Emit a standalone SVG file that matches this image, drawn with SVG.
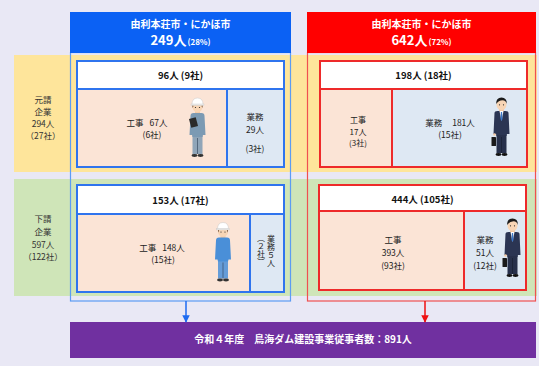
<svg xmlns="http://www.w3.org/2000/svg" width="539" height="366" viewBox="0 0 539 366">
  <style>
    text { font-family: "Noto Sans CJK JP", "Noto Sans", sans-serif; text-anchor: middle; }
    .hd { fill: #ffffff; font-weight: bold; }
    .t { font-size: 8.5px; fill: #222222; }
    .ts { font-size: 8px; fill: #222222; }
    .tb { font-size: 9.5px; fill: #111111; font-weight: bold; }
    .lbl { font-size: 8.5px; fill: #333333; }
    .vt { font-size: 8px; fill: #222222; writing-mode: vertical-rl; text-anchor: start; }
    .bIn { stroke: #2F74EE; stroke-width: 2; }
    .rIn { stroke: #EE2A2A; stroke-width: 2; }
    .work { fill: #FBE4D6; }
    .office { fill: #DEE8F3; }
    .title { fill: #ffffff; }
  </style>
  <defs>
    <marker id="arrowBlue" viewBox="0 0 10 10" refX="9" refY="5" markerWidth="5.5" markerHeight="5" orient="auto">
      <path d="M0,0 L10,5 L0,10 Z" fill="#1E6BF0"/>
    </marker>
    <marker id="arrowRed" viewBox="0 0 10 10" refX="9" refY="5" markerWidth="5.5" markerHeight="5" orient="auto">
      <path d="M0,0 L10,5 L0,10 Z" fill="#EE1111"/>
    </marker>
    <!-- office worker in a dark suit with a briefcase -->
    <symbol id="suitMan" viewBox="0 0 20 62">
      <rect x="7.5" y="12" width="5" height="4" fill="#F3C9A5"/>
      <ellipse cx="10" cy="8.5" rx="5" ry="5.8" fill="#F8D5B5"/>
      <path d="M4.6,8 Q4.5,1.5 10,1.5 Q15.5,1.5 15.4,8 Q14.5,4.5 11,4.2 Q7,4.5 4.6,8 Z" fill="#1B1B1B"/>
      <circle cx="8" cy="8.8" r="0.6" fill="#222"/>
      <circle cx="12" cy="8.8" r="0.6" fill="#222"/>
      <path d="M3,17 Q3,15 6,15 L14,15 Q17,15 17,17 L18,38 L15.5,38 L15,40 L5,40 L4.5,38 L2,38 Z" fill="#2B3553"/>
      <path d="M8,15 L12,15 L10,25 Z" fill="#ffffff"/>
      <path d="M9.4,16 L10.6,16 L11,23 L10,25 L9,23 Z" fill="#3C78C8"/>
      <rect x="5" y="39" width="10" height="18" fill="#27304B"/>
      <line x1="10" y1="41" x2="10" y2="57" stroke="#161C2E" stroke-width="0.6"/>
      <ellipse cx="7" cy="58.5" rx="3" ry="1.4" fill="#111"/>
      <ellipse cx="13" cy="58.5" rx="3" ry="1.4" fill="#111"/>
      <rect x="0" y="41" width="4.5" height="9" rx="0.6" fill="#1A1A1A"/>
      <circle cx="3" cy="38.5" r="1.3" fill="#F3C9A5"/>
    </symbol>
    <!-- site worker with a white helmet -->
    <symbol id="siteMan" viewBox="0 0 20 62">
      <rect x="7.5" y="13" width="5" height="4" fill="#F3C9A5"/>
      <ellipse cx="10" cy="10" rx="5" ry="5.3" fill="#F8D5B5"/>
      <path d="M4.5,7.5 Q4.5,1 10,1 Q15.5,1 15.5,7.5 Z" fill="#ffffff" stroke="#C8C8C8" stroke-width="0.5"/>
      <rect x="3.5" y="7" width="13" height="1.4" fill="#EDEDED" stroke="#C8C8C8" stroke-width="0.4"/>
      <path d="M5,8.4 L5,11 L6,9 Z M15,8.4 L15,11 L14,9 Z" fill="#5A3A22"/>
      <circle cx="8" cy="10.5" r="0.6" fill="#222"/>
      <circle cx="12" cy="10.5" r="0.6" fill="#222"/>
      <path d="M3,19 Q3,16 6,16 L14,16 Q17,16 17,19 L18,38 L15.5,38 L15,40 L5,40 L4.5,38 L2,38 Z" fill="currentColor"/>
      <rect x="5" y="39" width="10" height="18" fill="currentColor" opacity="0.85"/>
      <line x1="10" y1="41" x2="10" y2="57" stroke="#2E3E55" stroke-width="0.6"/>
      <ellipse cx="7" cy="58.5" rx="3" ry="1.4" fill="#333"/>
      <ellipse cx="13" cy="58.5" rx="3" ry="1.4" fill="#333"/>
    </symbol>
  </defs>

  <!-- page -->
  <rect width="539" height="366" fill="#E9E8F5"/>

  <!-- bands: prime contractors / subcontractors -->
  <g id="band-prime">
    <rect x="14" y="55" width="523" height="117" fill="#FEE59B"/>
    <text class="lbl" x="43" y="103">元請</text>
    <text class="lbl" x="43" y="115">企業</text>
    <text class="lbl" x="43" y="127">294人</text>
    <text class="lbl" x="43" y="139">（27社）</text>
  </g>
  <g id="band-sub">
    <rect x="14" y="179" width="523" height="117" fill="#CFE5B8"/>
    <text class="lbl" x="43" y="222">下請</text>
    <text class="lbl" x="43" y="235">企業</text>
    <text class="lbl" x="43" y="248">597人</text>
    <text class="lbl" x="43" y="260">（122社）</text>
  </g>

  <!-- local area column -->
  <g id="col-local">
    <rect x="70.5" y="52.5" width="220" height="248.5" fill="none" stroke="#5C9CF3" stroke-width="1.2"/>
    <rect x="70" y="12" width="221" height="41" fill="#0B61F4"/>
    <text class="hd" x="180.5" y="28" font-size="10">由利本荘市・にかほ市</text>
    <text class="hd" x="180.5" y="44.5" font-size="13">249人<tspan font-size="8" dx="1">(28%)</tspan></text>
  </g>

  <!-- other area column -->
  <g id="col-other">
    <rect x="307.5" y="52.5" width="228" height="248.5" fill="none" stroke="#F05050" stroke-width="1.2"/>
    <rect x="307" y="12" width="229" height="41" fill="#FF0000"/>
    <text class="hd" x="421.5" y="28" font-size="10">由利本荘市・にかほ市</text>
    <text class="hd" x="421.5" y="44.5" font-size="13">642人<tspan font-size="8" dx="1">(72%)</tspan></text>
  </g>

  <!-- local, prime -->
  <g id="local-prime">
    <rect class="title bIn" x="77" y="61" width="207" height="28"/>
    <rect class="work bIn" x="77" y="89" width="150" height="78"/>
    <rect class="office bIn" x="227" y="89" width="57" height="78"/>
    <text class="tb" x="180.5" y="79">96人 (9社)</text>
    <text class="t" x="147" y="126">工事<tspan dx="6">67人</tspan></text>
    <text class="t" x="152" y="138">(6社)</text>
    <text class="t" x="255" y="120">業務</text>
    <text class="t" x="255" y="133">29人</text>
    <text class="t" x="255" y="152">(3社)</text>
    <use href="#siteMan" x="187" y="97" width="21" height="62" color="#7C9AB3"/>
    <rect x="190" y="118" width="7" height="9" fill="#2A2A2A" transform="rotate(-15 193.5 122.5)"/>
  </g>

  <!-- local, subcontractors -->
  <g id="local-sub">
    <rect class="title bIn" x="77" y="185" width="207" height="29"/>
    <rect class="work bIn" x="77" y="214" width="173" height="78"/>
    <rect class="office bIn" x="250" y="214" width="34" height="78"/>
    <text class="tb" x="180.5" y="204">153人 (17社)</text>
    <text class="t" x="162" y="251">工事<tspan dx="6">148人</tspan></text>
    <text class="t" x="163" y="263">(15社)</text>
    <text class="vt" x="271" y="235">業務５人</text>
    <text class="vt" x="261" y="234">（２社）</text>
    <use href="#siteMan" x="213" y="221" width="20" height="63" color="#4A8FD8"/>
  </g>

  <!-- other, prime -->
  <g id="other-prime">
    <rect class="title rIn" x="320" y="61" width="207" height="28"/>
    <rect class="work rIn" x="320" y="89" width="72" height="78"/>
    <rect class="office rIn" x="392" y="89" width="135" height="78"/>
    <text class="tb" x="423.5" y="79">198人 (18社)</text>
    <text class="ts" x="358" y="123">工事</text>
    <text class="ts" x="358" y="134.5">17人</text>
    <text class="ts" x="358" y="146">(3社)</text>
    <text class="t" x="450" y="126">業務<tspan dx="10">181人</tspan></text>
    <text class="t" x="450" y="138">(15社)</text>
    <use href="#suitMan" x="491" y="96" width="21" height="62"/>
  </g>

  <!-- other, subcontractors -->
  <g id="other-sub">
    <rect class="title rIn" x="319" y="185" width="207" height="26"/>
    <rect class="work rIn" x="319" y="211" width="145" height="79"/>
    <rect class="office rIn" x="464" y="211" width="62" height="79"/>
    <text class="tb" x="422.5" y="203">444人 (105社)</text>
    <text class="t" x="393" y="243">工事</text>
    <text class="t" x="393" y="256">393人</text>
    <text class="t" x="393" y="269">(93社)</text>
    <text class="t" x="485" y="243">業務</text>
    <text class="t" x="485" y="256">51人</text>
    <text class="t" x="485" y="269">(12社)</text>
    <use href="#suitMan" x="502" y="217" width="21" height="62"/>
  </g>

  <!-- total -->
  <g id="total">
    <rect x="70" y="322" width="466" height="36" fill="#7030A0"/>
    <text class="hd" x="303" y="343" font-size="10">令和４年度　鳥海ダム建設事業従事者数：891人</text>
  </g>

  <!-- connectors -->
  <g id="connectors">
    <line x1="186" y1="301" x2="186" y2="322" stroke="#1E6BF0" stroke-width="1.5" marker-end="url(#arrowBlue)"/>
    <line x1="425" y1="301" x2="425" y2="322" stroke="#EE1111" stroke-width="1.5" marker-end="url(#arrowRed)"/>
  </g>
</svg>
